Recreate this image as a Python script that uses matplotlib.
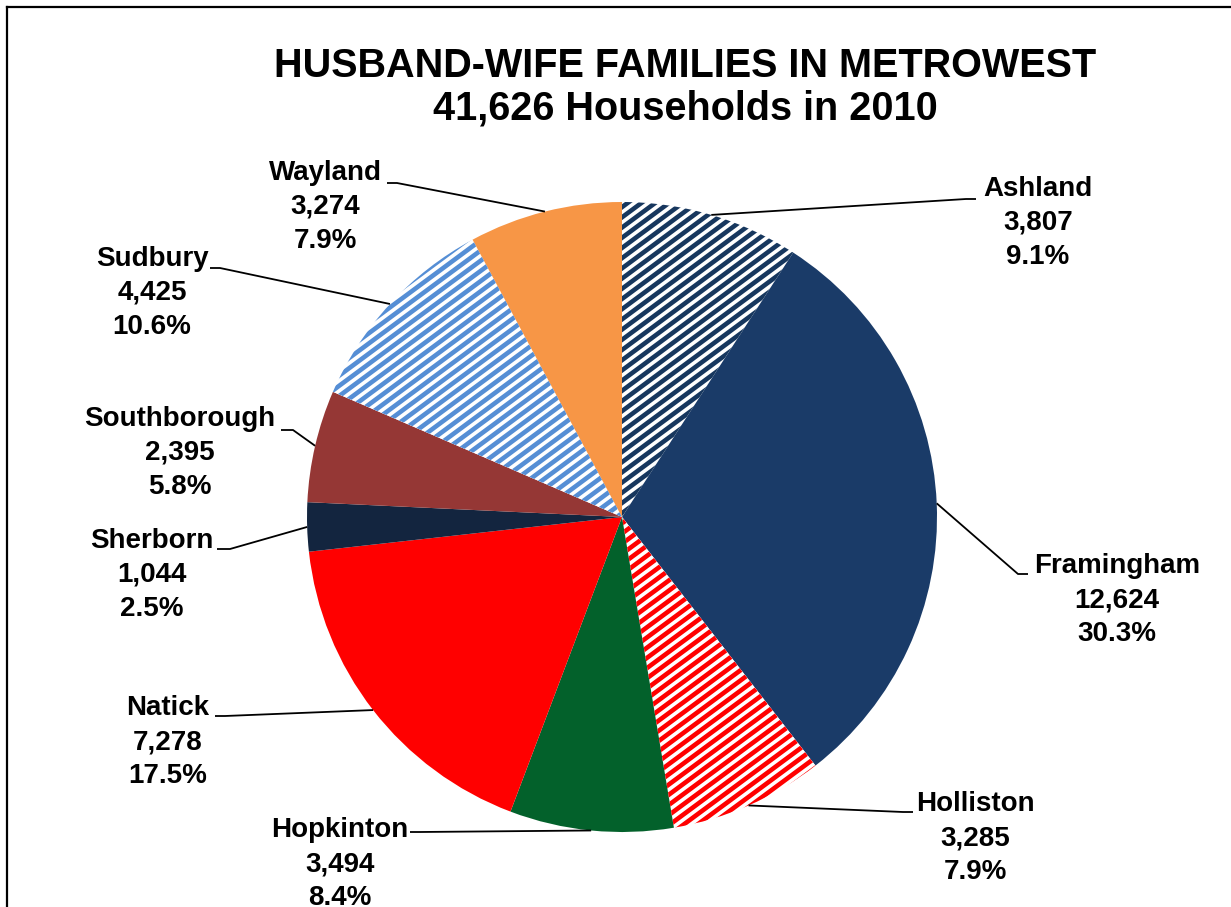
import numpy as np
import matplotlib
matplotlib.use("Agg")
import matplotlib.pyplot as plt
from matplotlib.collections import LineCollection
from matplotlib.lines import Line2D

# ---- data ----
towns = ["Ashland", "Framingham", "Holliston", "Hopkinton", "Natick",
         "Sherborn", "Southborough", "Sudbury", "Wayland"]
households = [3807, 12624, 3285, 3494, 7278, 1044, 2395, 4425, 3274]
title_lines = ["HUSBAND-WIFE FAMILIES IN METROWEST", "41,626 Households in 2010"]

# ---- style ----
colors = ["#17375E", "#1A3B68", "#FF0000", "#03612B", "#FF0000",
          "#13253F", "#953735", "#558ED5", "#F79646"]
hatched = [True, False, True, False, False, False, False, True, False]

# label layout (image pixel coords, y downward): text centre, leader elbow, leader tail
label_center = [(1038, 223), (1117, 600), (975, 838), (340, 864), (168, 742),
                (152, 575), (180, 453), (152, 293), (325, 207)]
leader_elbow = [(966, 199), (1018, 574), (903, 812), (420, 832), (225, 716),
                (230, 549), (293, 430), (220, 268), (397, 183)]
leader_tail = [(976, 199), (1028, 574), (913, 812), (410, 832), (215, 716),
               (217, 549), (281, 430), (210, 268), (387, 183)]

W, H = 1231, 907
plt.rcParams["font.family"] = ["Liberation Sans", "DejaVu Sans"]

fig = plt.figure(figsize=(W / 100, H / 100), dpi=100)
ax = fig.add_axes([0, 0, 1, 1])

cx, cy, R = 622, H - 517, 315
face = ["white" if h else c for h, c in zip(hatched, colors)]
wedges, _ = ax.pie(households, colors=face, startangle=90, counterclock=False,
                   center=(cx, cy), radius=R, frame=True,
                   wedgeprops=dict(linewidth=0))
ax.set_xlim(0, W)
ax.set_ylim(0, H)
ax.set_aspect("equal")
ax.axis("off")

# stripe hatching
ang = np.deg2rad(36.5)
d = np.array([np.cos(ang), np.sin(ang)])
n = np.array([-np.sin(ang), np.cos(ang)])
for w, h, c in zip(wedges, hatched, colors):
    if not h:
        continue
    segs = []
    for off in np.arange(-1.5 * R, 1.5 * R, 8.2):
        p0 = np.array([cx, cy]) + n * off
        segs.append([p0 - d * 1.6 * R, p0 + d * 1.6 * R])
    lc = LineCollection(segs, colors=c, linewidths=3.3, capstyle="butt")
    lc.set_clip_path(w)
    ax.add_collection(lc)

total = sum(households)
for w, name, val, tc, el, tl in zip(wedges, towns, households, label_center,
                                    leader_elbow, leader_tail):
    th = np.deg2rad((w.theta1 + w.theta2) / 2)
    ex, ey = cx + R * np.cos(th), cy + R * np.sin(th)
    ax.plot([ex, el[0], tl[0]], [ey, H - el[1], H - tl[1]], color="black",
            lw=1.3, solid_capstyle="butt")
    ax.text(tc[0], H - tc[1], f"{name}\n{val:,}\n{100 * val / total:.1f}%",
            ha="center", va="center", multialignment="center",
            fontsize=20, fontweight="bold", linespacing=1.4)

ax.text(685, H - 87, "\n".join(title_lines), ha="center", va="center",
        fontsize=28.5, fontweight="bold", linespacing=1.14)

# chart border (left & top visible)
fig.add_artist(Line2D([7 / W, 7 / W], [0, 1 - 7 / H], transform=fig.transFigure,
                      color="black", lw=1.6))
fig.add_artist(Line2D([7 / W, 1], [1 - 7 / H, 1 - 7 / H], transform=fig.transFigure,
                      color="black", lw=1.6))

fig.savefig("out.png", dpi=100)
